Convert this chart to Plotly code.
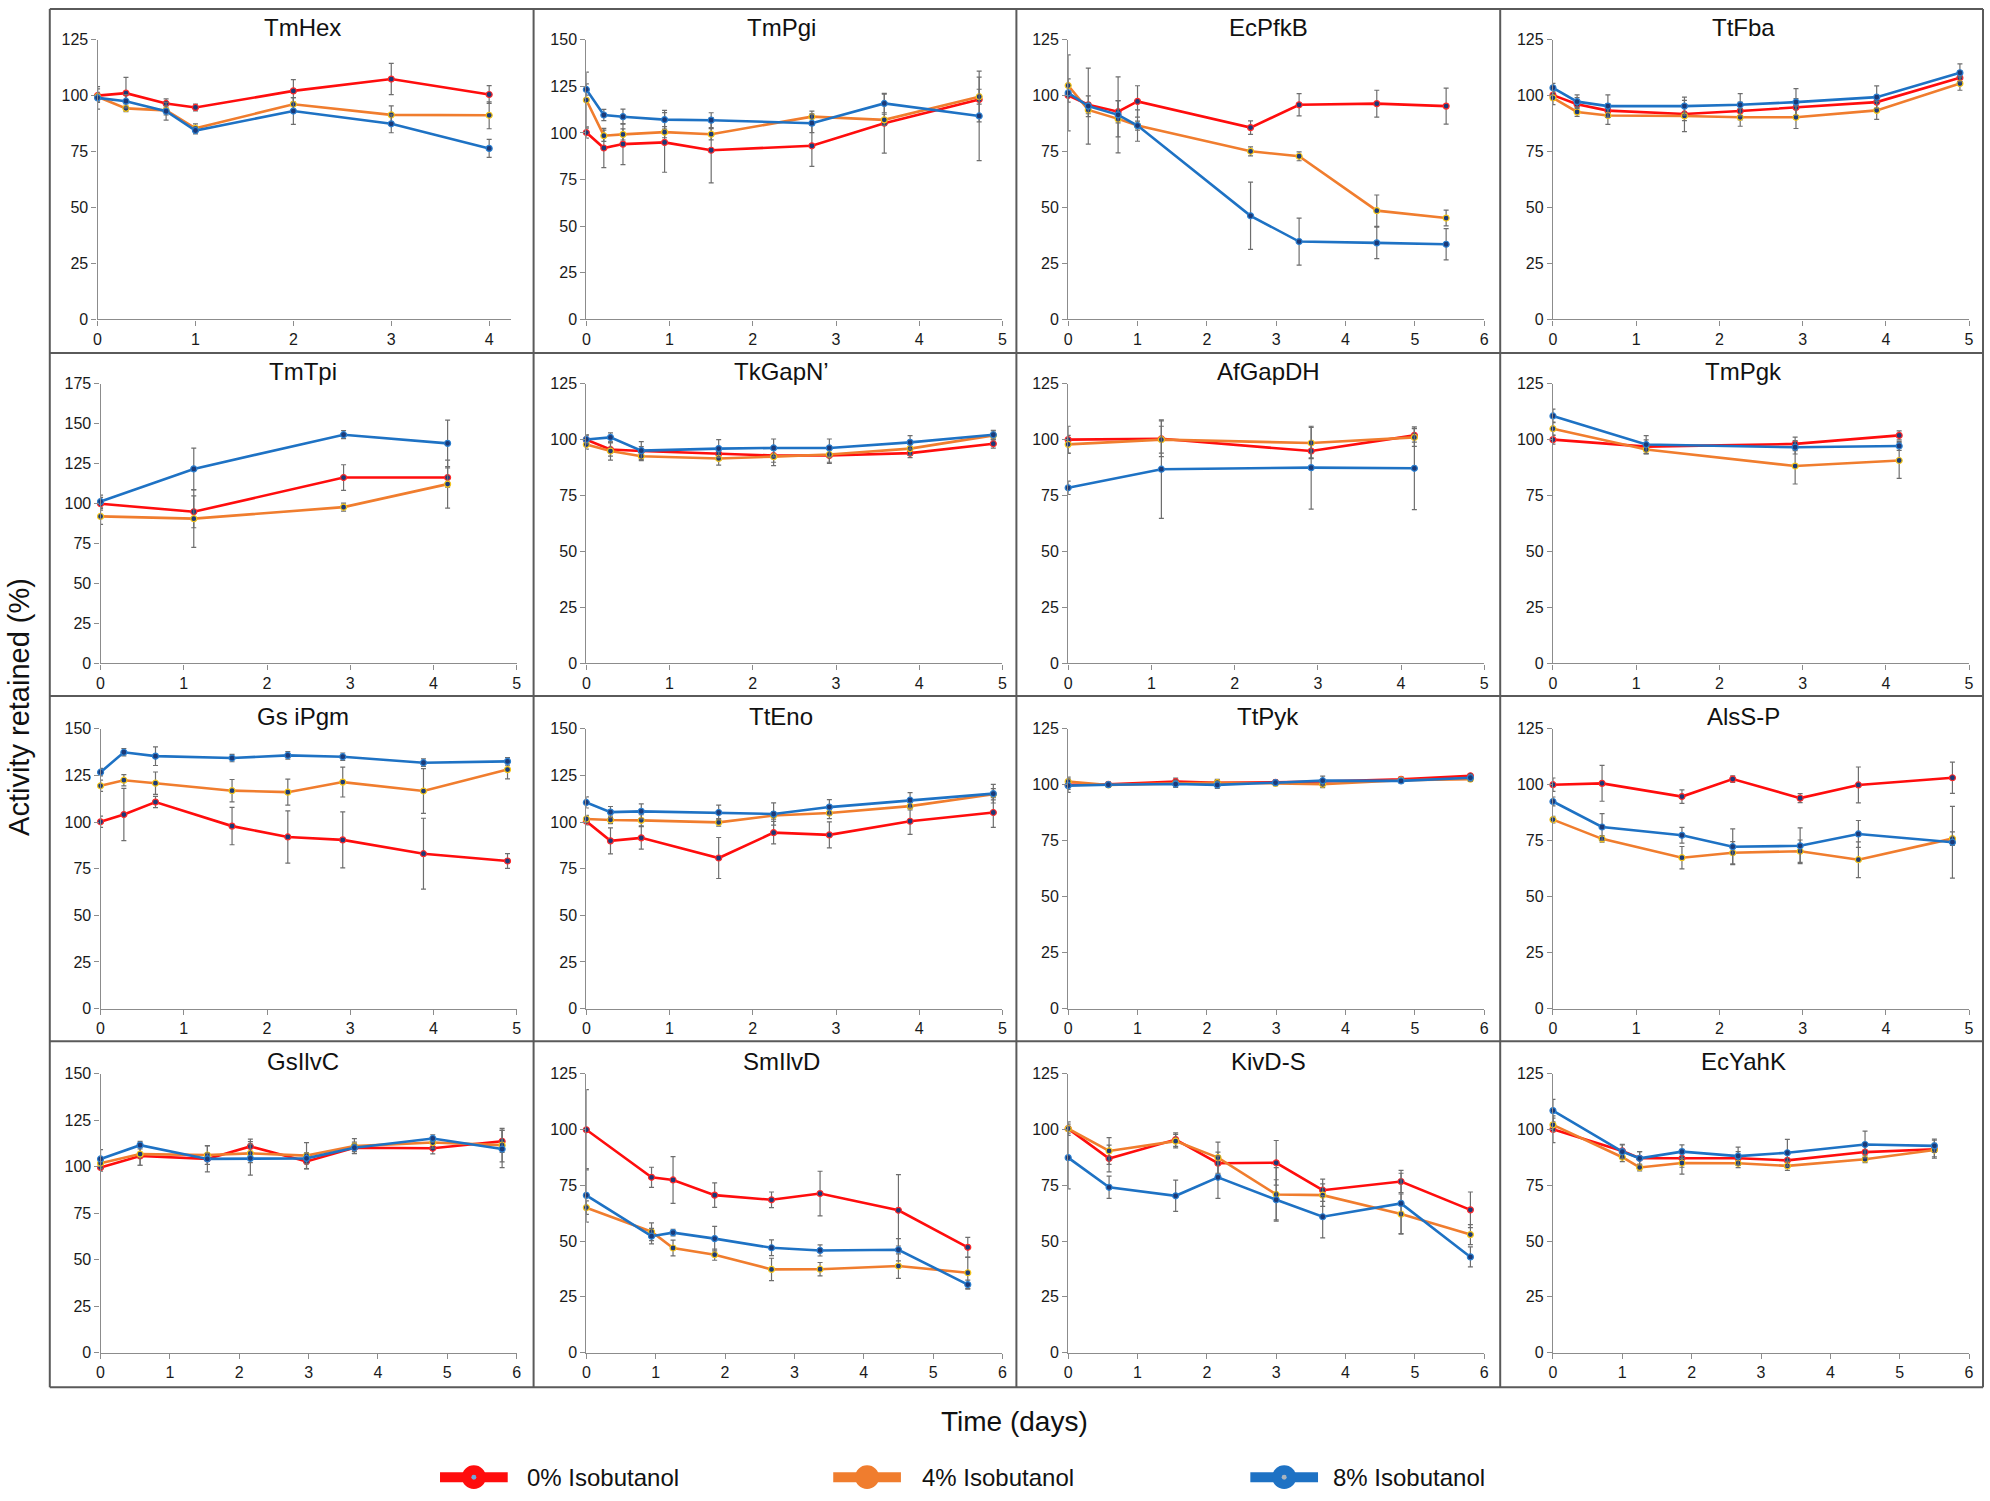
import plotly.graph_objects as go

# ---------------- DATA ----------------
series_names = ["0% Isobutanol", "4% Isobutanol", "8% Isobutanol"]
panel_titles = ["TmHex", "TmPgi", "EcPfkB", "TtFba",
                "TmTpi", "TkGapN\u2019", "AfGapDH", "TmPgk",
                "Gs iPgm", "TtEno", "TtPyk", "AlsS-P",
                "GsIlvC", "SmIlvD", "KivD-S", "EcYahK"]
y_max = [125, 150, 125, 125, 175, 125, 125, 125, 150, 150, 125, 125, 150, 125, 125, 125]
x_max = [4.22, 5, 6, 5, 5, 5, 5, 5, 5, 5, 6, 5, 6, 6, 6, 6]
y_ticks_step = 25

# TmHex
tmhex_t = [0, 0.29, 0.70, 1.0, 2.0, 3.0, 4.0]
tmhex_0 = [100, 101.1, 96.5, 94.7, 102.1, 107.4, 100.5]
tmhex_4 = [99.5, 94.3, 93.4, 85.4, 96.1, 91.4, 91.2]
tmhex_8 = [99.0, 97.5, 93.0, 84.4, 93.1, 87.4, 76.4]
tmhex_e0 = [3, 7, 2, 1.5, 5, 7, 4]
tmhex_e4 = [2, 1.5, 2, 2, 3, 4, 6]
tmhex_e8 = [5, 3, 4, 1.5, 6, 4, 4]

# TmPgi
tmpgi_t = [0, 0.21, 0.44, 0.94, 1.5, 2.71, 3.58, 4.72]
tmpgi_0 = [100.2, 91.9, 94.0, 94.9, 90.7, 93.1, 105.2, 117.9]
tmpgi_4 = [117.6, 98.5, 99.2, 100.4, 99.3, 108.7, 107.0, 119.4]
tmpgi_8 = [123.3, 109.6, 108.7, 107.1, 106.8, 105.2, 115.8, 109.1]
tmpgi_e0 = [3, 10.5, 11, 16, 17.5, 11, 16, 12]
tmpgi_e4 = [15, 3, 3, 3, 3, 3, 3, 4]
tmpgi_e8 = [3, 3, 4, 5, 4, 5, 5, 24]

# EcPfkB
ecpfkb_t = [0, 0.29, 0.72, 1.0, 2.63, 3.33, 4.45, 5.45]
ecpfkb_0 = [100.1, 95.9, 92.8, 97.4, 85.7, 95.9, 96.4, 95.3]
ecpfkb_4 = [104.5, 93.6, 89.6, 86.6, 75.1, 72.9, 48.6, 45.3]
ecpfkb_8 = [101.2, 95.3, 91.4, 86.6, 46.3, 34.8, 34.2, 33.6]
ecpfkb_e0 = [3, 4, 5, 7, 3, 5, 6, 8]
ecpfkb_e4 = [3, 3, 8, 2, 2, 2, 7, 3.5]
ecpfkb_e8 = [17, 17, 17, 7, 15, 10.5, 7, 7]

# TtFba
ttfba_t = [0, 0.29, 0.66, 1.58, 2.25, 2.92, 3.89, 4.89]
ttfba_0 = [100.2, 96.1, 93.3, 91.8, 93.1, 94.7, 97.1, 108.0]
ttfba_4 = [99.0, 92.7, 91.1, 90.9, 90.3, 90.3, 93.4, 105.4]
ttfba_8 = [103.5, 97.3, 95.3, 95.3, 95.9, 97.1, 99.3, 110.2]
ttfba_e0 = [2, 3, 3, 3, 4, 4, 3, 3]
ttfba_e4 = [3, 2, 4, 7, 4, 5, 4, 3]
ttfba_e8 = [2, 3, 5, 4, 5, 6, 5, 4]

# TmTpi
tmtpi_t = [0, 1.12, 2.92, 4.17]
tmtpi_0 = [99.9, 94.9, 116.3, 116.3]
tmtpi_4 = [92.0, 90.6, 97.8, 112.2]
tmtpi_8 = [101.3, 121.7, 143.1, 137.7]
tmtpi_e0 = [4, 10, 8, 6]
tmtpi_e4 = [5, 18, 2.5, 15]
tmtpi_e8 = [4, 13, 2.5, 14.5]

# TkGapN'
tkgapn_t = [0, 0.29, 0.66, 1.59, 2.25, 2.92, 3.89, 4.89]
tkgapn_0 = [100, 95.6, 94.9, 93.7, 92.9, 92.9, 94.0, 98.2]
tkgapn_4 = [97.8, 94.9, 92.6, 91.6, 92.4, 93.4, 96.0, 101.9]
tkgapn_8 = [100.1, 101.0, 95.1, 96.0, 96.3, 96.3, 98.8, 102.2]
tkgapn_e0 = [2, 3, 2, 3, 3, 3, 2, 2]
tkgapn_e4 = [2, 4, 2, 3, 4, 4, 3, 2]
tkgapn_e8 = [2, 2, 4, 4, 4, 4, 3, 2]

# AfGapDH
afgapdh_t = [0, 1.12, 2.92, 4.16]
afgapdh_0 = [100, 100.4, 94.9, 101.9]
afgapdh_4 = [97.9, 100, 98.5, 101.0]
afgapdh_8 = [78.5, 86.8, 87.5, 87.2]
afgapdh_e0 = [6, 8, 3, 3]
afgapdh_e4 = [4, 6, 7, 4]
afgapdh_e8 = [3, 22, 18.5, 18.5]

# TmPgk
tmpgk_t = [0, 1.12, 2.91, 4.16]
tmpgk_0 = [100, 96.9, 98.1, 101.9]
tmpgk_4 = [104.9, 95.6, 88.2, 90.7]
tmpgk_8 = [110.6, 97.8, 96.6, 97.2]
tmpgk_e0 = [2, 3, 3, 2]
tmpgk_e4 = [3, 2, 8, 8]
tmpgk_e8 = [3, 4, 3, 2]

# Gs iPgm
gsipgm_t = [0, 0.28, 0.66, 1.58, 2.25, 2.91, 3.88, 4.89]
gsipgm_0 = [100.1, 104.0, 110.7, 97.8, 92.0, 90.4, 83.0, 79.1]
gsipgm_4 = [119.4, 122.4, 120.8, 116.8, 116.0, 121.4, 116.6, 128.1]
gsipgm_8 = [126.7, 137.4, 135.3, 134.3, 135.7, 135.0, 131.8, 132.5]
gsipgm_e0 = [3, 14, 3, 10, 14, 15, 19, 4]
gsipgm_e4 = [3, 3, 6, 6, 7, 8, 12, 5]
gsipgm_e8 = [2, 2, 5, 2, 2, 2, 2, 2]

# TtEno
tteno_t = [0, 0.29, 0.66, 1.59, 2.25, 2.92, 3.89, 4.89]
tteno_0 = [100.4, 89.9, 91.5, 80.7, 94.3, 93.1, 100.4, 105.1]
tteno_4 = [101.6, 101.1, 100.9, 99.8, 103.5, 104.8, 108.5, 114.9]
tteno_8 = [110.5, 105.3, 105.7, 105.1, 104.3, 108.0, 111.7, 115.2]
tteno_e0 = [2, 7, 6, 11, 6, 7, 7, 8]
tteno_e4 = [2, 2, 3, 2, 2, 3, 2, 3]
tteno_e8 = [3, 3, 4, 4, 6, 4, 4, 5]

# TtPyk
ttpyk_t = [0, 0.58, 1.55, 2.15, 2.99, 3.67, 4.8, 5.8]
ttpyk_0 = [99.9, 100.2, 101.4, 100.9, 101.1, 101.4, 102.4, 104.0]
ttpyk_4 = [101.4, 99.9, 100.6, 100.9, 100.6, 100.2, 102.0, 102.5]
ttpyk_8 = [99.6, 100.0, 100.3, 99.9, 100.9, 101.8, 101.7, 103.1]
ttpyk_e0 = [2, 1, 1.5, 1, 1, 1, 1, 1]
ttpyk_e4 = [2, 1, 1, 1.5, 1, 1.5, 1, 1]
ttpyk_e8 = [3, 1, 1.5, 1.5, 1, 2, 1, 1.5]

# AlsS-P
alssp_t = [0, 0.59, 1.55, 2.16, 2.97, 3.67, 4.8]
alssp_0 = [100.0, 100.6, 94.7, 102.5, 94.0, 99.9, 103.1]
alssp_4 = [84.4, 75.8, 67.4, 69.6, 70.3, 66.5, 75.9]
alssp_8 = [92.5, 81.1, 77.4, 72.3, 72.7, 78.0, 74.3]
alssp_e0 = [3, 8, 3, 1.5, 2, 8, 7]
alssp_e4 = [1.5, 1.5, 5, 5, 5, 8, 3]
alssp_e8 = [2, 6, 3.5, 8, 8, 6, 16]

# GsIlvC
gsilvc_t = [0, 0.57, 1.54, 2.16, 2.97, 3.66, 4.79, 5.79]
gsilvc_0 = [99.6, 105.8, 104.2, 110.9, 102.8, 110.2, 109.9, 113.7]
gsilvc_4 = [101.9, 106.8, 106.3, 107.2, 106.0, 111.1, 113.0, 111.6]
gsilvc_8 = [104.2, 111.6, 104.2, 104.5, 104.5, 110.2, 115.2, 109.5]
gsilvc_e0 = [2, 5, 7, 4, 4, 3, 3, 6]
gsilvc_e4 = [3, 6, 5, 5, 7, 4, 3, 9]
gsilvc_e8 = [5, 2, 3, 9, 3, 2, 2, 10]

# SmIlvD
smilvd_t = [0, 0.94, 1.25, 1.85, 2.67, 3.37, 4.5, 5.5]
smilvd_0 = [99.9, 78.6, 77.4, 70.6, 68.5, 71.3, 63.8, 47.2]
smilvd_4 = [65.0, 54.2, 46.9, 43.9, 37.3, 37.4, 38.8, 35.8]
smilvd_8 = [70.5, 52.2, 53.8, 51.1, 47.0, 45.8, 46.1, 30.5]
smilvd_e0 = [18, 4.5, 10.5, 5.5, 3.5, 10, 16, 4.5]
smilvd_e4 = [3, 4, 3.5, 2.5, 5, 3, 5.5, 7]
smilvd_e8 = [12, 3.5, 1.5, 5.5, 3.5, 2.5, 5, 2]

# KivD-S
kivds_t = [0, 0.59, 1.55, 2.16, 3.0, 3.67, 4.8, 5.8]
kivds_0 = [100.4, 87.0, 95.5, 84.9, 85.1, 72.8, 76.7, 64.0]
kivds_4 = [100.4, 90.4, 94.8, 87.4, 70.9, 70.6, 62.1, 52.9]
kivds_8 = [87.4, 74.1, 70.3, 78.6, 68.5, 60.9, 66.9, 42.9]
kivds_e0 = [3, 6, 3, 5, 10, 5, 5, 8]
kivds_e4 = [2, 6, 3, 7, 12, 5, 9, 4.5]
kivds_e8 = [14, 5, 7, 9.5, 9, 9.5, 13.5, 4.5]

# EcYahK
ecyahk_t = [0, 1.0, 1.25, 1.86, 2.67, 3.38, 4.5, 5.5]
ecyahk_0 = [100.1, 90.4, 87.1, 87.1, 87.1, 86.2, 89.9, 91.2]
ecyahk_4 = [102.1, 87.6, 83.0, 85.0, 84.9, 83.7, 86.7, 90.8]
ecyahk_8 = [108.5, 90.1, 87.1, 90.1, 88.1, 89.6, 93.3, 92.7]
ecyahk_e0 = [6, 3, 3, 4, 3, 3, 3, 4]
ecyahk_e4 = [3, 2, 1.5, 5, 2, 2, 1.5, 3]
ecyahk_e8 = [5, 3, 3, 3, 4, 6, 6, 3]

panels = [
    (tmhex_t, (tmhex_0, tmhex_4, tmhex_8), (tmhex_e0, tmhex_e4, tmhex_e8)),
    (tmpgi_t, (tmpgi_0, tmpgi_4, tmpgi_8), (tmpgi_e0, tmpgi_e4, tmpgi_e8)),
    (ecpfkb_t, (ecpfkb_0, ecpfkb_4, ecpfkb_8), (ecpfkb_e0, ecpfkb_e4, ecpfkb_e8)),
    (ttfba_t, (ttfba_0, ttfba_4, ttfba_8), (ttfba_e0, ttfba_e4, ttfba_e8)),
    (tmtpi_t, (tmtpi_0, tmtpi_4, tmtpi_8), (tmtpi_e0, tmtpi_e4, tmtpi_e8)),
    (tkgapn_t, (tkgapn_0, tkgapn_4, tkgapn_8), (tkgapn_e0, tkgapn_e4, tkgapn_e8)),
    (afgapdh_t, (afgapdh_0, afgapdh_4, afgapdh_8), (afgapdh_e0, afgapdh_e4, afgapdh_e8)),
    (tmpgk_t, (tmpgk_0, tmpgk_4, tmpgk_8), (tmpgk_e0, tmpgk_e4, tmpgk_e8)),
    (gsipgm_t, (gsipgm_0, gsipgm_4, gsipgm_8), (gsipgm_e0, gsipgm_e4, gsipgm_e8)),
    (tteno_t, (tteno_0, tteno_4, tteno_8), (tteno_e0, tteno_e4, tteno_e8)),
    (ttpyk_t, (ttpyk_0, ttpyk_4, ttpyk_8), (ttpyk_e0, ttpyk_e4, ttpyk_e8)),
    (alssp_t, (alssp_0, alssp_4, alssp_8), (alssp_e0, alssp_e4, alssp_e8)),
    (gsilvc_t, (gsilvc_0, gsilvc_4, gsilvc_8), (gsilvc_e0, gsilvc_e4, gsilvc_e8)),
    (smilvd_t, (smilvd_0, smilvd_4, smilvd_8), (smilvd_e0, smilvd_e4, smilvd_e8)),
    (kivds_t, (kivds_0, kivds_4, kivds_8), (kivds_e0, kivds_e4, kivds_e8)),
    (ecyahk_t, (ecyahk_0, ecyahk_4, ecyahk_8), (ecyahk_e0, ecyahk_e4, ecyahk_e8)),
]

# ---------------- STYLE / LAYOUT ----------------
W, H = 1990, 1501
FONT = "Liberation Sans, Arial, Helvetica, sans-serif"
line_colors = ["#FF0D0D", "#F07D2E", "#1E72C4"]
marker_edge = ["#FF2A2A", "#F5C518", "#2A7FD0"]
marker_fill = "#1B3A78"
err_color = "#6E6E6E"
frame_color = "#5A5A5A"

frame_x = [46, 532, 1017, 1503, 1988]
frame_y = [1, 349, 696, 1045, 1395]
plot_left = [97, 585, 1069, 1556]
plot_w = 418
plot_top = [32, 380, 729, 1078]
plot_bot = [315, 663, 1012, 1360]
title_x = [300, 781, 1270, 1747]


def px(x):
    return x / W


def py(y):
    return 1 - y / H


fig = go.Figure()
layout = dict(
    width=W, height=H,
    margin=dict(l=0, r=0, t=0, b=0),
    paper_bgcolor="white", plot_bgcolor="white",
    showlegend=False,
    font=dict(family=FONT, color="#1a1a1a"),
)
annotations = []
shapes = []

for i, (t, vals, errs) in enumerate(panels):
    r, c = divmod(i, 4)
    sfx = "" if i == 0 else str(i + 1)
    left = plot_left[c]
    right = left + plot_w
    if i == 0:
        left, right = 94, 509
    layout["xaxis" + sfx] = dict(
        domain=[px(left), px(right)], anchor="y" + sfx,
        range=[0, x_max[i]], tickmode="linear", tick0=0, dtick=1,
        showline=True, linecolor="#8C8C8C", linewidth=1.2,
        ticks="outside", ticklen=5, tickcolor="#8C8C8C", tickwidth=1,
        showgrid=False, zeroline=False,
        tickfont=dict(family=FONT, size=16, color="#1a1a1a"),
    )
    layout["yaxis" + sfx] = dict(
        domain=[py(plot_bot[r]), py(plot_top[r])], anchor="x" + sfx,
        range=[0, y_max[i]], tickmode="linear", tick0=0, dtick=y_ticks_step,
        showline=True, linecolor="#8C8C8C", linewidth=1.2,
        ticks="outside", ticklen=5, tickcolor="#8C8C8C", tickwidth=1,
        showgrid=False, zeroline=False,
        tickfont=dict(family=FONT, size=16, color="#1a1a1a"),
    )
    for k in range(3):
        fig.add_trace(go.Scatter(
            x=t, y=vals[k], name=series_names[k],
            xaxis="x" + sfx, yaxis="y" + sfx,
            mode="lines+markers",
            line=dict(color=line_colors[k], width=2.6),
            marker=dict(size=6, color=marker_fill,
                        line=dict(color=marker_edge[k], width=1.2)),
            error_y=dict(type="data", array=errs[k], visible=True,
                         color=err_color, thickness=1.2, width=2.5),
            cliponaxis=False,
        ))
    annotations.append(dict(
        text=panel_titles[i], x=px(title_x[c]), y=py(plot_top[r] - 12),
        xref="paper", yref="paper", showarrow=False,
        xanchor="center", yanchor="middle",
        font=dict(family=FONT, size=24, color="#111111"),
    ))

# panel frames
for xv in frame_x:
    shapes.append(dict(type="line", xref="paper", yref="paper",
                       x0=px(xv), x1=px(xv), y0=py(frame_y[0]), y1=py(frame_y[-1]),
                       line=dict(color=frame_color, width=2)))
for yv in frame_y:
    shapes.append(dict(type="line", xref="paper", yref="paper",
                       x0=px(frame_x[0]), x1=px(frame_x[-1]), y0=py(yv), y1=py(yv),
                       line=dict(color=frame_color, width=2)))

# axis titles
annotations.append(dict(text="Activity retained (%)", x=px(15), y=py(707),
                        xref="paper", yref="paper", showarrow=False, textangle=-90,
                        xanchor="center", yanchor="middle",
                        font=dict(family=FONT, size=29, color="#111111")))
annotations.append(dict(text="Time (days)", x=px(1015), y=py(1430),
                        xref="paper", yref="paper", showarrow=False,
                        xanchor="center", yanchor="middle",
                        font=dict(family=FONT, size=28, color="#111111")))

# custom legend (Excel-like thick line + big dot)
legend_cx = [472, 867, 1286]
legend_tx = [523, 920, 1333]
legend_dot = ["#6FA8DC", None, "#A9B4BE"]
legend_y = 1486
for k in range(3):
    cx = legend_cx[k]
    shapes.append(dict(type="line", xref="paper", yref="paper",
                       x0=px(cx - 34), x1=px(cx + 34), y0=py(legend_y), y1=py(legend_y),
                       line=dict(color=line_colors[k], width=10)))
    shapes.append(dict(type="circle", xref="paper", yref="paper",
                       x0=px(cx - 12), x1=px(cx + 12), y0=py(legend_y + 12), y1=py(legend_y - 12),
                       fillcolor=line_colors[k], line=dict(width=0)))
    if legend_dot[k]:
        shapes.append(dict(type="circle", xref="paper", yref="paper",
                           x0=px(cx - 2.5), x1=px(cx + 2.5), y0=py(legend_y + 2.5), y1=py(legend_y - 2.5),
                           fillcolor=legend_dot[k], line=dict(width=0)))
    annotations.append(dict(text=series_names[k], x=px(legend_tx[k]), y=py(legend_y),
                            xref="paper", yref="paper", showarrow=False,
                            xanchor="left", yanchor="middle",
                            font=dict(family=FONT, size=24, color="#111111")))

layout["annotations"] = annotations
layout["shapes"] = shapes
fig.update_layout(**layout)
fig.write_html(
    "out.html",
    config={"displayModeBar": False},
    post_script="document.body.style.margin='0';document.body.style.overflow='hidden';",
)
